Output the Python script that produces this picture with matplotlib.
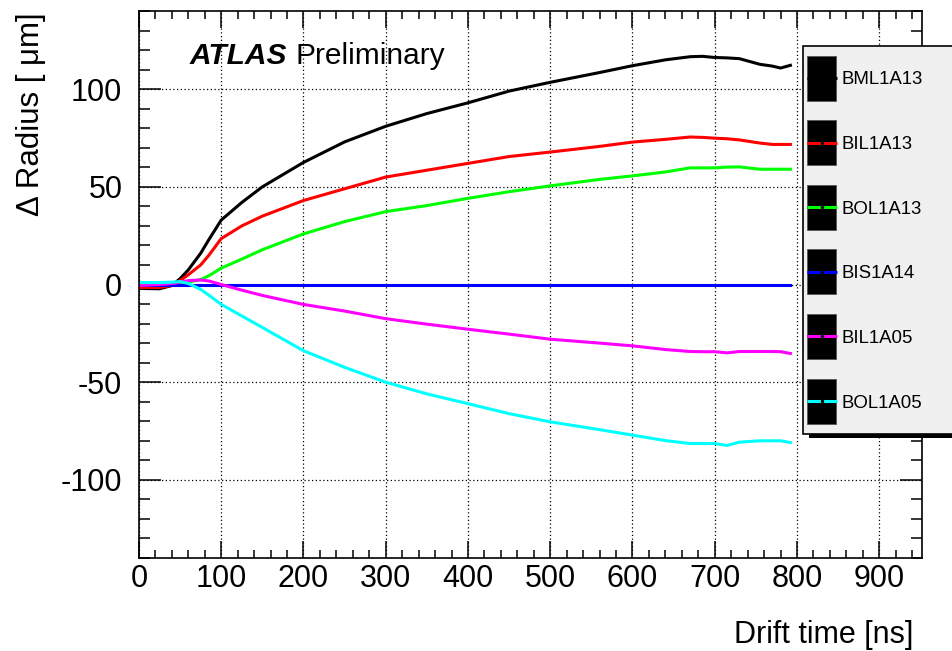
import numpy as np
import matplotlib
matplotlib.use("Agg")
import matplotlib.pyplot as plt
from matplotlib.patches import Rectangle
from matplotlib.ticker import MultipleLocator

plt.rcParams['font.family'] = ['Liberation Sans', 'DejaVu Sans']
plt.rcParams['axes.unicode_minus'] = False

# drift time [ns]
t = [0, 25, 40, 50, 60, 75, 85, 100, 125, 150, 200, 250, 300, 350, 400, 450,
     500, 560, 600, 640, 670, 685, 700, 715, 730, 755, 770, 780, 792]

names = ["BML1A13", "BIL1A13", "BOL1A13", "BIS1A14", "BIL1A05", "BOL1A05"]
colors = ["#000000", "#ff0000", "#00ff00", "#0000ff", "#ff00ff", "#00ffff"]

bml1a13 = [-2, -2.2, -0.5, 3, 7.5, 16, 23, 33, 42, 50, 62.5, 73, 81, 87.5, 93, 99,
           103.5, 108.5, 112, 115, 116.6, 116.8, 116.2, 116, 115.6, 112.7, 111.8, 110.8, 112.2]
bil1a13 = [-1.5, -1.5, -0.5, 2, 5, 10, 15, 23.5, 30, 35, 43, 49, 55, 58.5, 62, 65.5,
           67.8, 70.7, 72.9, 74.3, 75.5, 75.3, 74.9, 74.6, 74.0, 72.4, 71.7, 71.7, 71.7]
bol1a13 = [0.5, 0.5, 0.5, 0.8, 1.2, 2.5, 4.5, 8.4, 13, 17.8, 25.9, 32.2, 37.3, 40.4, 44.1, 47.5,
           50.5, 53.8, 55.6, 57.6, 59.7, 59.7, 59.7, 60.1, 60.2, 59.0, 59.0, 59.0, 59.0]
bis1a14 = [0] * len(t)
bil1a05 = [-0.5, 0, 0.5, 1.2, 2, 2.3, 1.8, 0, -2.9, -5.6, -10.2, -13.6, -17.5, -20.3, -22.9, -25.4,
           -28, -30, -31.4, -33.3, -34.3, -34.4, -34.4, -35, -34.3, -34.3, -34.3, -34.4, -35.3]
bol1a05 = [1, 1, 1.2, 1.5, 0.5, -2.5, -5.5, -10.2, -16.1, -22, -33.9, -42.4, -50, -56, -61, -66.1,
           -70.3, -74.3, -77.1, -79.9, -81.4, -81.4, -81.4, -82.4, -80.7, -80, -80, -80, -80.9]
series = [bml1a13, bil1a13, bol1a13, bis1a14, bil1a05, bol1a05]

fig = plt.figure(figsize=(9.53, 6.51), dpi=100)
ax = fig.add_axes([139/953, 1-558/651, (922-139)/953, (558-11)/651])

for y, c in zip(series, colors):
    ax.plot(t, y, color=c, lw=2.2)

ax.set_xlim(0, 952)
ax.set_ylim(-140, 140)
ax.xaxis.set_major_locator(MultipleLocator(100))
ax.xaxis.set_minor_locator(MultipleLocator(20))
ax.yaxis.set_major_locator(MultipleLocator(50))
ax.yaxis.set_minor_locator(MultipleLocator(10))
ax.tick_params(which='both', direction='in', top=True, right=True, width=1.1, labelsize=22)
ax.tick_params(axis='x', which='major', length=12, pad=4)
ax.tick_params(axis='x', which='minor', length=6)
ax.tick_params(axis='y', which='major', length=16, pad=12)
ax.tick_params(axis='y', which='minor', length=8)
for s in ax.spines.values():
    s.set_linewidth(1.2)
ax.grid(which='major', color='black', linestyle=(0, (1, 2)), linewidth=0.9)
ax.set_axisbelow(True)

fig.text(31/953, 1-12/651, "Δ Radius [ μm]", rotation=90, ha='center', va='top', fontsize=22.5)
fig.text(913/953, 1-635/651, "Drift time [ns]", ha='right', va='center', fontsize=22)
fig.text(190/953, 1-64/651, "ATLAS", fontsize=21.5, weight='bold', style='italic', va='baseline')
fig.text(296/953, 1-64/651, "Preliminary", fontsize=21.5, va='baseline')

# legend box drawn in pixel space
ov = fig.add_axes([0, 0, 1, 1], zorder=5)
ov.set_xlim(0, 953)
ov.set_ylim(651, 0)
ov.axis('off')
ov.add_patch(Rectangle((809, 50), 160, 388, fc='black', ec='none', clip_on=False))
ov.add_patch(Rectangle((803, 46), 160, 388, fc='#f0f0f0', ec='black', lw=1.2, clip_on=False))
for i, (n, c) in enumerate(zip(names, colors)):
    yc = 78 + i * 64.6
    ov.add_patch(Rectangle((807, yc - 22.5), 29, 45, fc='black', ec='#555555', lw=0.6))
    ov.plot([807, 837], [yc, yc], color=c, lw=2.2, solid_capstyle='butt')
    ov.plot([822], [yc], 'o', color='black', ms=1.5)
    ov.text(842, yc + 2, n, ha='left', va='center', fontsize=13.4)

fig.savefig("out.png", dpi=100)
